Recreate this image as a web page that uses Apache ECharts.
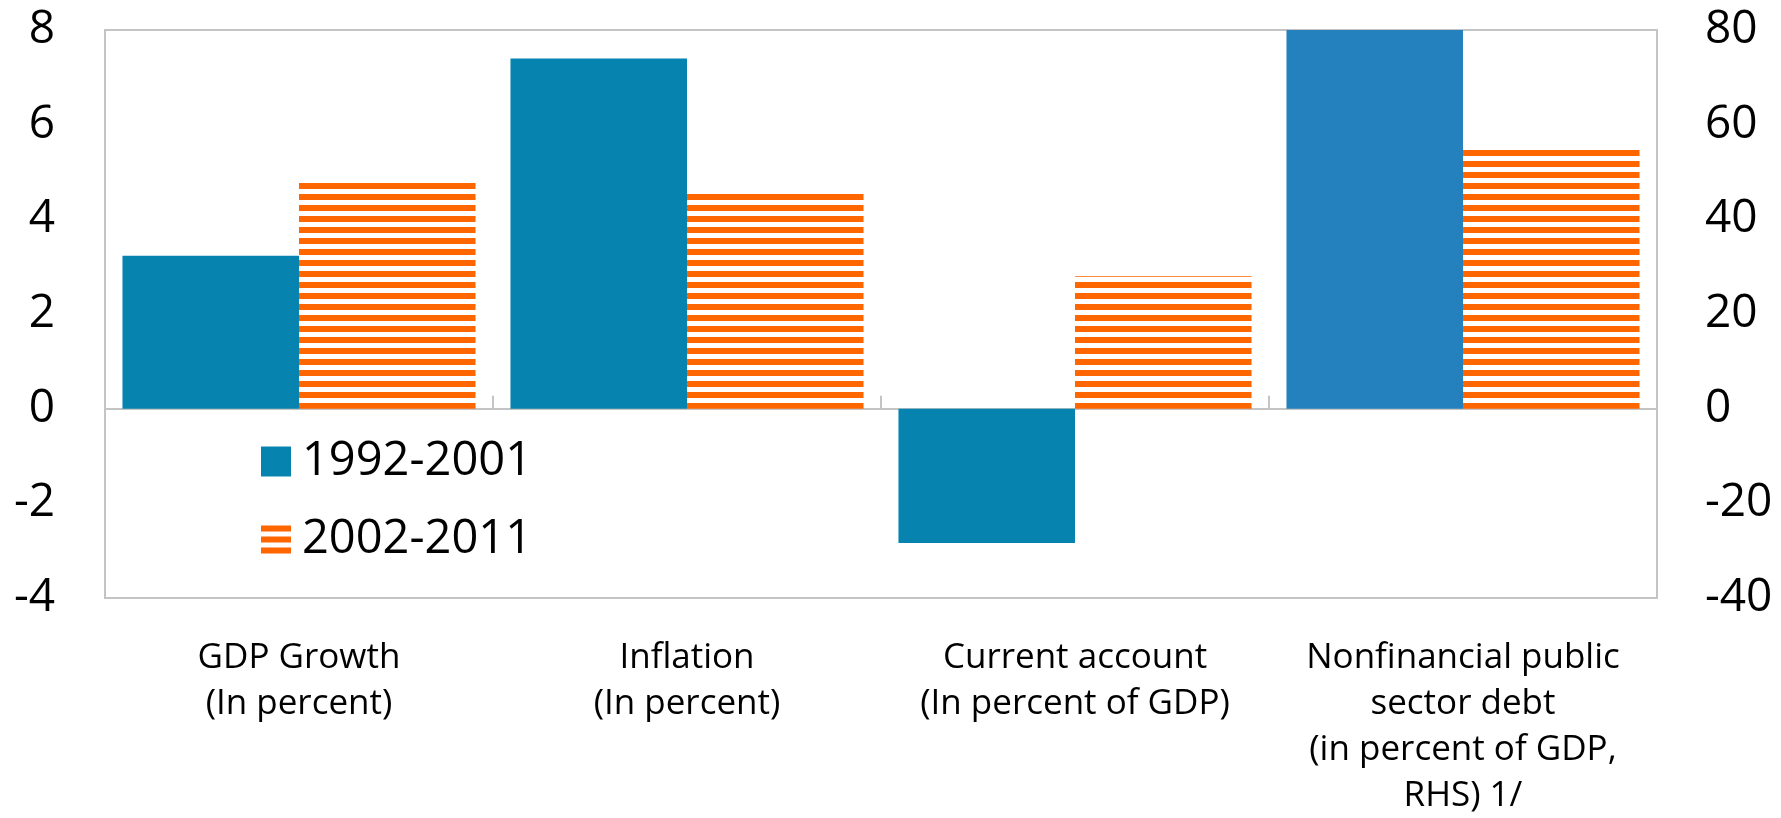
<!DOCTYPE html>
<html>
<head>
<meta charset="utf-8">
<script src="https://cdn.jsdelivr.net/npm/echarts@6/dist/echarts.min.js"></script>
<style>
  html, body { margin: 0; padding: 0; background: #fff; }
  #chart { width: 1781px; height: 818px; }
</style>
</head>
<body>
<div id="chart"></div>
<script>
// categories and values
const categories = [
  'GDP Growth\n(In percent)',
  'Inflation\n(In percent)',
  'Current account\n(In percent of GDP)',
  'Nonfinancial public\nsector debt\n(in percent of GDP,\nRHS) 1/',
];
const seriesNames = ['1992-2001', '2002-2011'];
// left axis (percent) - first three categories
const lhsEarly = [3.23, 7.40, -2.84, null];
const lhsLate = [4.77, 4.57, 2.80, null];
// right axis (percent of GDP) - debt only
const rhsEarly = [null, null, null, 80];
const rhsLate = [null, null, null, 55.3];
const lhsTicks = { min: -4, max: 8, interval: 2 };
const rhsTicks = { min: -40, max: 80, interval: 20 };

const BLUE = '#0684AF';
const BLUE_RHS = '#2581BD';
const ORANGE = '#FF6600';
const GRAY = '#C4C4C4';
const FONT = 'Open Sans';

// horizontal orange stripes, 6px on / 5px off
const makeStripes = () => {
  const c = document.createElement('canvas');
  c.width = 8;
  c.height = 11;
  const ctx = c.getContext('2d');
  ctx.fillStyle = ORANGE;
  ctx.fillRect(0, 7, 8, 4);
  ctx.fillRect(0, 0, 8, 2);
  return { image: c, repeat: 'repeat' };
};
const stripes = makeStripes();

const chart = echarts.init(document.getElementById('chart'));

const xBase = {
  type: 'category',
  data: categories,
  boundaryGap: true,
  position: 'bottom',
};

chart.setOption({
  animation: false,
  textStyle: { fontFamily: FONT, color: '#000' },
  grid: {
    left: 105, right: 124, top: 30, bottom: 220,
    containLabel: false,
    outerBoundsMode: 'none',
    show: true,
    borderColor: GRAY,
    borderWidth: 2,
    backgroundColor: 'transparent',
  },
  legend: {
    orient: 'vertical',
    left: 261,
    top: 438,
    padding: 0,
    itemWidth: 30,
    itemHeight: 30,
    itemGap: 31,
    textStyle: { fontFamily: FONT, fontSize: 47, lineHeight: 47, color: '#000', padding: [0, 0, 0, 6] },
    data: [
      { name: seriesNames[0], icon: 'rect', itemStyle: { color: BLUE } },
      {
        name: seriesNames[1],
        icon: 'path://M0,0h30v6H0z M0,11h30v6H0z M0,22h30v6H0z',
        itemStyle: { color: ORANGE },
      },
    ],
  },
  xAxis: [
    {
      ...xBase,
      axisLine: { show: true, onZero: true, lineStyle: { color: GRAY, width: 2 } },
      axisTick: { show: true, inside: true, length: 13, lineStyle: { color: GRAY, width: 2 } },
      axisLabel: { show: false },
      splitLine: { show: false },
    },
    {
      ...xBase,
      axisLine: { show: false, onZero: false },
      axisTick: { show: false },
      axisLabel: {
        show: true,
        interval: 0,
        margin: 37,
        fontFamily: FONT,
        fontSize: 35,
        lineHeight: 46,
        color: '#000',
        align: 'center',
      },
      splitLine: { show: false },
    },
  ],
  yAxis: [
    {
      type: 'value',
      position: 'left',
      ...lhsTicks,
      axisLine: { show: false },
      axisTick: { show: false },
      splitLine: { show: false },
      axisLabel: { margin: 50, fontFamily: FONT, fontSize: 46, color: '#000' },
    },
    {
      type: 'value',
      position: 'right',
      ...rhsTicks,
      axisLine: { show: false },
      axisTick: { show: false },
      splitLine: { show: false },
      axisLabel: { margin: 48, fontFamily: FONT, fontSize: 46, color: '#000' },
    },
  ],
  series: [
    {
      name: seriesNames[0], type: 'bar', xAxisIndex: 0, yAxisIndex: 0,
      data: lhsEarly, barGap: 0, barCategoryGap: '9%',
      itemStyle: { color: BLUE },
    },
    {
      name: seriesNames[1], type: 'bar', xAxisIndex: 0, yAxisIndex: 0,
      data: lhsLate, barGap: 0, barCategoryGap: '9%',
      itemStyle: { color: stripes },
    },
    {
      name: seriesNames[0], type: 'bar', xAxisIndex: 1, yAxisIndex: 1,
      data: rhsEarly, barGap: 0, barCategoryGap: '9%',
      itemStyle: { color: BLUE_RHS },
    },
    {
      name: seriesNames[1], type: 'bar', xAxisIndex: 1, yAxisIndex: 1,
      data: rhsLate, barGap: 0, barCategoryGap: '9%',
      itemStyle: { color: stripes },
    },
  ],
});

window.addEventListener('resize', () => chart.resize());
</script>
</body>
</html>
